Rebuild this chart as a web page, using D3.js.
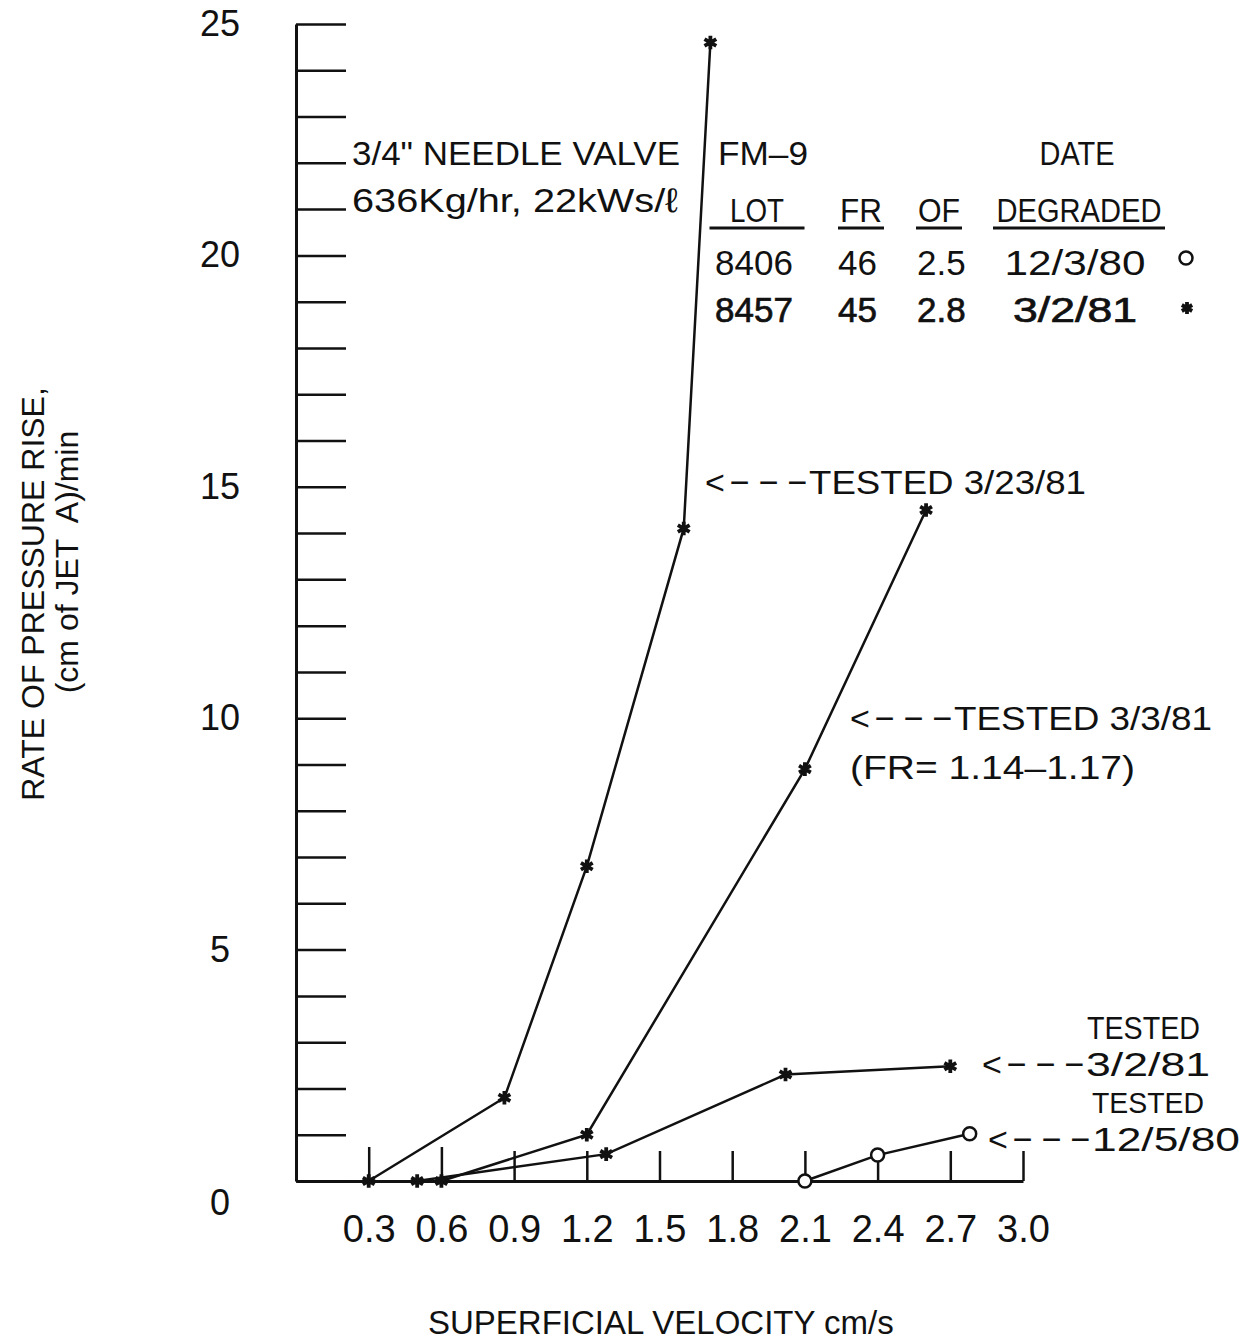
<!DOCTYPE html>
<html>
<head>
<meta charset="utf-8">
<script src="https://cdn.jsdelivr.net/npm/d3@7"></script>
<style>
  body { margin: 0; background: #fff; }
  svg text { font-family: "Liberation Sans", Arial, sans-serif; fill: #111; }
</style>
</head>
<body>
<svg id="chart" width="1254" height="1340"></svg>
<script>
// Superficial velocity ticks (cm/s) and labelled pressure ticks
var velocityTicks = [0.3, 0.6, 0.9, 1.2, 1.5, 1.8, 2.1, 2.4, 2.7, 3.0];
var pressureTicks = d3.range(0, 26);
var pressureLabels = [0, 5, 10, 15, 20, 25];

// FM-9 lot 8457 (asterisks): [velocity, rate of pressure rise]
var tested_3_23_81 = [[0.3, 0], [0.86, 1.8], [1.2, 6.8], [1.6, 14.1], [1.71, 24.6]];
var tested_3_3_81  = [[0.6, 0], [1.2, 1.0], [2.1, 8.9], [2.6, 14.5]];
var tested_3_2_81  = [[0.5, 0], [1.28, 0.58], [2.02, 2.3], [2.7, 2.48]];
// FM-9 lot 8406 (circles)
var tested_12_5_80 = [[2.1, 0], [2.4, 0.56], [2.78, 1.02]];

// legend table
var lotHeaders = ["LOT", "FR", "OF", "DEGRADED"];
var lotRows = [
  ["8406", "46", "2.5", "12/3/80"],
  ["8457", "45", "2.8", "3/2/81"]
];

var svg = d3.select("#chart");
var ink = "#111";

var x = d3.scaleLinear().domain([0, 3.0]).range([296, 1023]);
var y = d3.scaleLinear().domain([0, 25]).range([1181, 24]);

// x axis: ticks point up into the plot, labels well below
var xAxis = svg.append("g")
    .attr("transform", "translate(0,1181)")
    .call(d3.axisBottom(x)
        .tickValues(velocityTicks)
        .tickSizeInner(-30)
        .tickSizeOuter(0)
        .tickPadding(34)
        .tickFormat(d3.format(".1f")));

// y axis: one tick per unit, pointing right
var yAxis = svg.append("g")
    .attr("transform", "translate(296,0)")
    .call(d3.axisLeft(y)
        .tickValues(pressureTicks)
        .tickSizeInner(-50)
        .tickSizeOuter(0)
        .tickFormat(function(d) { return pressureLabels.indexOf(d) >= 0 ? d : ""; }));

[xAxis, yAxis].forEach(function(g) {
  g.attr("font-family", null).attr("font-size", null);
  g.select(".domain").attr("stroke", ink).attr("stroke-width", 3);
  g.selectAll(".tick line").attr("stroke", ink).attr("stroke-width", 2.5);
});
xAxis.selectAll(".tick line").filter(function(d) { return d <= 0.6; }).attr("y2", -34);
xAxis.selectAll(".tick text").style("font-size", "38px").attr("fill", ink);
yAxis.selectAll(".tick text")
    .style("font-size", "36px")
    .attr("fill", ink)
    .attr("text-anchor", "middle")
    .attr("x", -76)
    .attr("y", function(d) { return d === 0 ? 22 : 0; });

// series lines
var line = d3.line()
    .x(function(d) { return x(d[0]); })
    .y(function(d) { return y(d[1]); });

var starSeries = [tested_3_23_81, tested_3_3_81, tested_3_2_81];
var allSeries = starSeries.concat([tested_12_5_80]);

svg.append("g").selectAll("path")
    .data(allSeries)
    .enter().append("path")
    .attr("d", line)
    .attr("fill", "none")
    .attr("stroke", ink)
    .attr("stroke-width", 2.5);

var star = d3.symbol().type(d3.symbolAsterisk).size(130);

svg.append("g").selectAll("path")
    .data(d3.merge(starSeries))
    .enter().append("path")
    .attr("d", star)
    .attr("transform", function(d) { return "translate(" + x(d[0]) + "," + y(d[1]) + ")"; })
    .attr("stroke", ink)
    .attr("stroke-width", 3.8);

svg.append("g").selectAll("circle")
    .data(tested_12_5_80)
    .enter().append("circle")
    .attr("cx", function(d) { return x(d[0]); })
    .attr("cy", function(d) { return y(d[1]); })
    .attr("r", 6.5)
    .attr("fill", "#fff")
    .attr("stroke", ink)
    .attr("stroke-width", 2.5);

// text helpers; width squeezes/stretches the run to the given length
function label(tx, ty, str, size, anchor, width) {
  var t = svg.append("text")
      .attr("x", tx).attr("y", ty)
      .attr("text-anchor", anchor || "start")
      .style("font-size", (size || 33) + "px")
      .text(str);
  if (width) t.attr("textLength", width).attr("lengthAdjust", "spacingAndGlyphs");
  return t;
}

function arrowLabel(tx, ty, str, width) {
  var a = svg.append("text").attr("x", tx).attr("y", ty).style("font-size", "34px");
  a.append("tspan").text("<");
  a.append("tspan").attr("dx", 5).attr("letter-spacing", 9).text("\u2212\u2212\u2212");
  return label(tx + 104, ty, str, 34, "start", width);
}

// header block
label(352, 165, "3/4\" NEEDLE VALVE", 34, "start", 328);
label(352, 212, "636Kg/hr, 22kWs/\u2113", 34, "start", 326);
label(718, 165, "FM\u20139", 33, "start", 90);
label(1077, 165, "DATE", 33, "middle", 75);

var colCenters = [757, 861, 939, 1079];
var colWidths = [95, 46, 46, 172];
var headWidths = [54, 42, 42, 165];
lotHeaders.forEach(function(h, i) {
  label(colCenters[i], 222, h, 33, "middle", headWidths[i]);
  svg.append("line")
      .attr("x1", colCenters[i] - colWidths[i] / 2)
      .attr("x2", colCenters[i] + colWidths[i] / 2)
      .attr("y1", 228).attr("y2", 228)
      .attr("stroke", ink).attr("stroke-width", 3);
});

var rowStarts = [715, 838, 917];
var dateWidths = [141, 124];
lotRows.forEach(function(row, r) {
  var ry = 275 + r * 47;
  row.forEach(function(cell, i) {
    var t = i < 3 ? label(rowStarts[i], ry, cell, 35)
                  : label(1075, ry, cell, 35, "middle", dateWidths[r]);
    if (r === 1) t.attr("stroke", ink).attr("stroke-width", 0.7);
  });
});
svg.append("circle")
    .attr("cx", 1186).attr("cy", 258).attr("r", 6.5)
    .attr("fill", "none").attr("stroke", ink).attr("stroke-width", 2.5);
svg.append("path")
    .attr("d", d3.symbol().type(d3.symbolAsterisk).size(100))
    .attr("transform", "translate(1187,308)")
    .attr("stroke", ink).attr("stroke-width", 3.8);

// series annotations
arrowLabel(705, 494, "TESTED 3/23/81", 277);
arrowLabel(850, 730, "TESTED 3/3/81", 258);
label(850, 779, "(FR= 1.14\u20131.17)", 34, "start", 285);
label(1087, 1039, "TESTED", 32, "start", 113);
arrowLabel(982, 1076, "3/2/81", 124);
label(1092, 1113, "TESTED", 30, "start", 112);
arrowLabel(988, 1151, "12/5/80", 148);

// axis titles
label(0, 0, "SUPERFICIAL VELOCITY cm/s", 33).attr("x", 428).attr("y", 1334);
label(0, 0, "RATE OF PRESSURE RISE,", 32, "middle")
    .attr("transform", "translate(44,594) rotate(-90)");
label(0, 0, "(cm of JET  A)/min", 32, "middle")
    .style("white-space", "pre")
    .attr("transform", "translate(78,562) rotate(-90)");
</script>
</body>
</html>
